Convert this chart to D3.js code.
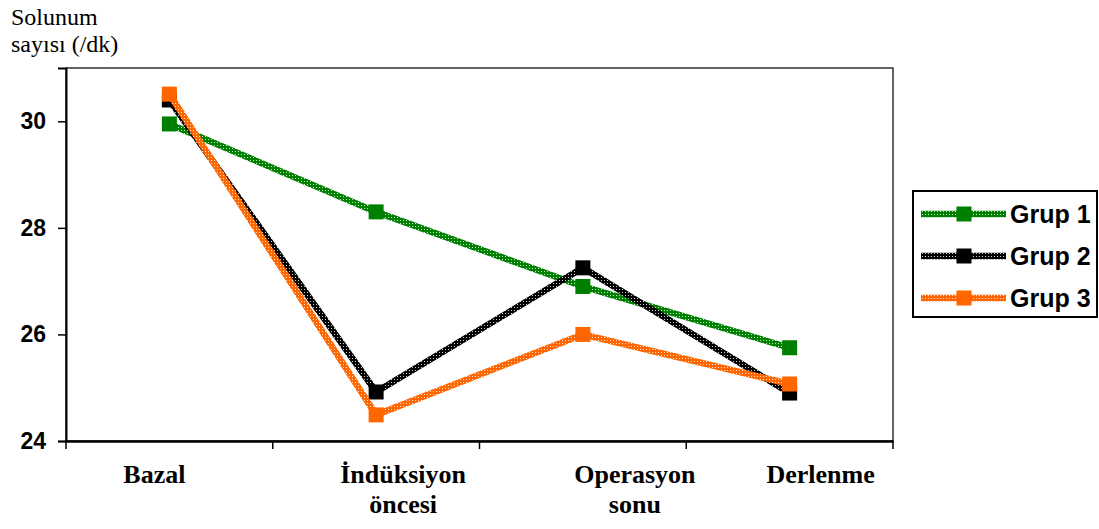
<!DOCTYPE html>
<html>
<head>
<meta charset="utf-8">
<script src="https://cdn.jsdelivr.net/npm/d3@7"></script>
<style>
  html, body { margin: 0; padding: 0; background: #fff; }
  svg { display: block; }
</style>
</head>
<body>
<svg id="chart" width="1099" height="529"></svg>
<script>
// ---- data ----
const categories = ["Bazal", "İndüksiyon\nöncesi", "Operasyon\nsonu", "Derlenme"];
const seriesNames = ["Grup 1", "Grup 2", "Grup 3"];
const grup1 = [29.95, 28.3, 26.9, 25.75];
const grup2 = [30.4, 24.92, 27.25, 24.9];
const grup3 = [30.51, 24.49, 26.0, 25.07];
const yTicks = [24, 26, 28, 30];
const yDomain = [24, 31];
const seriesColors = ["#008000", "#000000", "#FF6600"];

(function () {
// ---- layout ----
const svg = d3.select("#chart");
const pL = 66, pR = 893, pT = 68, pB = 441;
const labelOffsets = [-15, 27, 52, 31];

const x = d3.scaleBand().domain(categories).range([pL, pR]).padding(0);
const y = d3.scaleLinear().domain(yDomain).range([pB, pT]);

// patterns for mesh-style lines
const defs = svg.append("defs");
seriesColors.forEach((c, i) => {
  const p = defs.append("pattern")
    .attr("id", "pat" + i)
    .attr("patternUnits", "userSpaceOnUse")
    .attr("width", 3).attr("height", 3);
  p.append("rect").attr("width", 3).attr("height", 3).attr("fill", c);
  p.append("rect").attr("x", 1).attr("y", 1).attr("width", 1).attr("height", 1)
    .attr("fill", "#fff").attr("opacity", 0.8);
});

// plot frame
svg.append("rect")
  .attr("x", pL).attr("y", pT)
  .attr("width", pR - pL).attr("height", pB - pT)
  .attr("fill", "none").attr("stroke", "#000").attr("stroke-width", 1.2);

// y axis
const yAxis = d3.axisLeft(y).tickValues(yTicks).tickSize(8).tickPadding(12).tickFormat(d3.format("d"));
const gy = svg.append("g").attr("transform", `translate(${pL},0)`).call(yAxis);
gy.select(".domain").attr("stroke-width", 2);
gy.selectAll(".tick line").attr("stroke-width", 1.5);
gy.selectAll("text")
  .attr("font-family", "Liberation Sans, Arial, sans-serif")
  .attr("font-weight", "bold").attr("font-size", 23).attr("fill", "#000");

// x axis (ticks at band boundaries)
const xAxis = d3.axisBottom(x).tickSize(0).tickFormat("");
const gx = svg.append("g").attr("transform", `translate(0,${pB})`).call(xAxis);
gx.select(".domain").attr("stroke-width", 2.5);
const boundaries = categories.map(c => x(c)).concat([x(categories[categories.length - 1]) + x.bandwidth()]);
gx.selectAll(".bt").data(boundaries).enter().append("line")
  .attr("x1", d => d).attr("x2", d => d).attr("y1", 0).attr("y2", 8)
  .attr("stroke", "#000").attr("stroke-width", 1.5);

// x labels
categories.forEach((c, i) => {
  const cx = x(c) + x.bandwidth() / 2 + labelOffsets[i];
  const t = svg.append("text")
    .attr("x", cx)
    .attr("y", 483)
    .attr("text-anchor", "middle")
    .attr("font-family", "Liberation Serif, Times New Roman, serif")
    .attr("font-weight", "bold").attr("font-size", 26).attr("fill", "#000");
  c.split("\n").forEach((ln, j) => {
    t.append("tspan").attr("x", cx).attr("dy", j === 0 ? 0 : 30).text(ln);
  });
});

// y title
const title = svg.append("text")
  .attr("font-family", "Liberation Serif, Times New Roman, serif")
  .attr("font-size", 24).attr("fill", "#000");
title.append("tspan").attr("x", 11).attr("y", 25).text("Solunum");
title.append("tspan").attr("x", 11).attr("y", 52).text("sayısı (/dk)");

// series
const allSeries = [grup1, grup2, grup3];
const lineGen = d3.line().x((d, i) => x(categories[i]) + x.bandwidth() / 2).y(d => y(d));
const ms = 15;
allSeries.forEach((vals, si) => {
  svg.append("path").datum(vals)
    .attr("d", lineGen)
    .attr("fill", "none")
    .attr("stroke", `url(#pat${si})`)
    .attr("stroke-width", 6.5);
  svg.selectAll(".m" + si).data(vals).enter().append("rect")
    .attr("class", "m" + si)
    .attr("x", (d, i) => x(categories[i]) + x.bandwidth() / 2 - ms / 2)
    .attr("y", d => y(d) - ms / 2)
    .attr("width", ms).attr("height", ms)
    .attr("fill", seriesColors[si]);
});

// legend
const lg = svg.append("g");
lg.append("rect").attr("x", 913).attr("y", 191).attr("width", 184).attr("height", 126)
  .attr("fill", "#fff").attr("stroke", "#000").attr("stroke-width", 2);
seriesNames.forEach((n, i) => {
  const cy = 214 + i * 42;
  lg.append("line").attr("x1", 921).attr("x2", 1006).attr("y1", cy).attr("y2", cy)
    .attr("stroke", `url(#pat${i})`).attr("stroke-width", 6.5);
  lg.append("rect").attr("x", 964 - ms / 2).attr("y", cy - ms / 2)
    .attr("width", ms).attr("height", ms).attr("fill", seriesColors[i]);
  lg.append("text").attr("x", 1010).attr("y", cy + 9)
    .attr("font-family", "Liberation Sans, Arial, sans-serif")
    .attr("font-weight", "bold").attr("font-size", 25).attr("fill", "#000")
    .text(n);
});
})();
</script>
</body>
</html>
